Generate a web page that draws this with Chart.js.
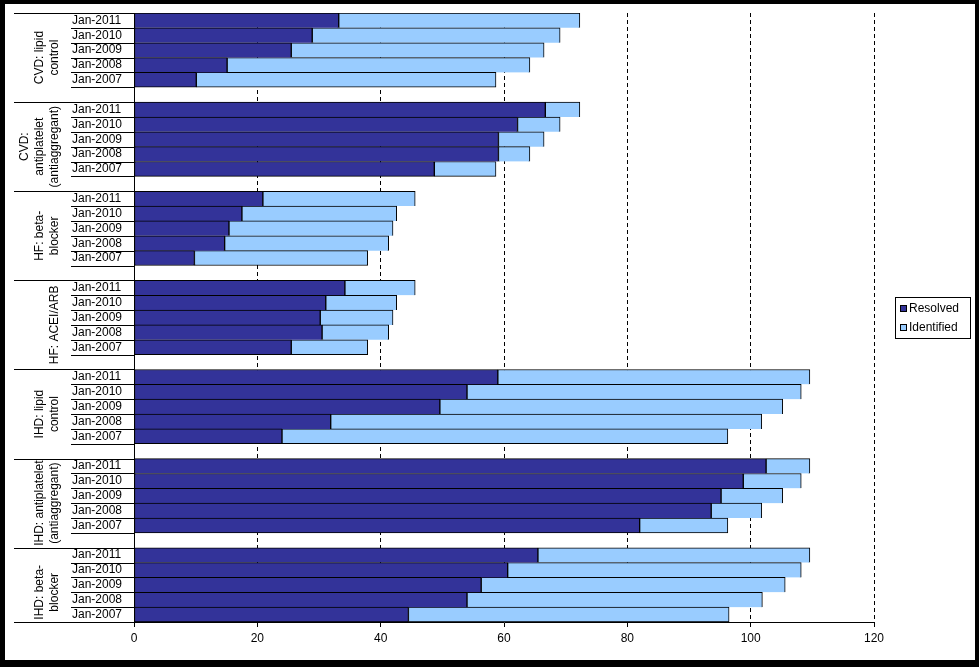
<!DOCTYPE html>
<html>
<head>
<meta charset="utf-8">
<script src="https://cdn.jsdelivr.net/npm/chart.js@4"></script>
<style>
  html, body { margin: 0; padding: 0; background: #000; }
  #wrap { position: absolute; left: 0; top: 0; width: 979px; height: 667px; }
</style>
</head>
<body>
<div id="wrap"><canvas id="chart" width="979" height="667"></canvas></div>
<script>
// Data
const years = ['Jan-2011', 'Jan-2010', 'Jan-2009', 'Jan-2008', 'Jan-2007'];
const groupNames = [
  ['CVD: lipid', 'control'],
  ['CVD:', 'antiplatelet', '(antiaggregant)'],
  ['HF: beta-', 'blocker'],
  ['HF: ACEI/ARB'],
  ['IHD: lipid', 'control'],
  ['IHD: antiplatelet', '(antiaggregant)'],
  ['IHD: beta-', 'blocker']
];
const resolved = [
  [33.2, 28.9, 25.5, 15.1, 10.1],
  [66.7, 62.2, 59.1, 59.1, 48.7],
  [20.9, 17.5, 15.4, 14.7, 9.8],
  [34.2, 31.1, 30.2, 30.5, 25.5],
  [59.0, 54.0, 49.6, 31.9, 24.0],
  [102.5, 98.8, 95.2, 93.6, 82.0],
  [65.5, 60.6, 56.3, 54.0, 44.5]
];
const identified = [
  [72.3, 69.1, 66.5, 64.2, 58.7],
  [72.3, 69.1, 66.5, 64.2, 58.7],
  [45.6, 42.6, 42.0, 41.3, 37.9],
  [45.6, 42.6, 42.0, 41.3, 37.9],
  [109.6, 108.2, 105.2, 101.8, 96.3],
  [109.6, 108.2, 105.2, 101.8, 96.3],
  [109.6, 108.2, 105.6, 101.9, 96.5]
];
const xTicks = [0, 20, 40, 60, 80, 100, 120];

// Flatten into category slots, with one blank slot between groups
const labels = [];
const resolvedData = [];
const identifiedData = [];
groupNames.forEach((g, gi) => {
  years.forEach((y, yi) => {
    labels.push(y);
    resolvedData.push([0, resolved[gi][yi]]);
    identifiedData.push([resolved[gi][yi], identified[gi][yi]]);
  });
  if (gi < groupNames.length - 1) {
    labels.push('');
    resolvedData.push(null);
    identifiedData.push(null);
  }
});

const FONT = '"Liberation Sans", Arial, sans-serif';

// Only the last bar of each group gets a bottom edge, so rows share one line
function barBorder(ctx) {
  const last = labels[ctx.dataIndex] === 'Jan-2007';
  return { top: 1, left: 1, right: 1, bottom: last ? 1 : 0 };
}

// Frame, category labels and legend
const decor = {
  id: 'decor',
  beforeDraw(chart) {
    const c = chart.ctx;
    c.save();
    c.fillStyle = '#000';
    c.fillRect(0, 0, chart.width, chart.height);
    c.fillStyle = '#fff';
    c.fillRect(5, 4, 970, 656);
    c.restore();
  },
  afterDraw(chart) {
    const c = chart.ctx;
    const y = chart.scales.y;
    const area = chart.chartArea;
    const slot = (y.getPixelForValue(1) - y.getPixelForValue(0));
    c.save();
    c.strokeStyle = '#000';
    c.lineWidth = 1;
    c.fillStyle = '#000';
    c.font = '12px ' + FONT;
    c.textBaseline = 'middle';

    let idx = 0;
    groupNames.forEach((g, gi) => {
      const gTop = y.getPixelForValue(idx) - slot / 2;
      const n = gi < groupNames.length - 1 ? 6 : 5;
      const gBot = gTop + n * slot;
      // long separator at group top
      c.beginPath();
      c.moveTo(14, Math.round(gTop) + 0.5);
      c.lineTo(area.left, Math.round(gTop) + 0.5);
      c.stroke();
      // date labels with short rules
      years.forEach((yr, yi) => {
        const py = y.getPixelForValue(idx + yi);
        c.textAlign = 'left';
        c.fillText(yr, 72, py);
        const b = Math.round(py + slot / 2) + 0.5;
        c.beginPath();
        c.moveTo(71, b);
        c.lineTo(area.left, b);
        c.stroke();
      });
      // rotated group name
      const cy = (gTop + gTop + 6 * slot) / 2;
      c.save();
      c.translate(0, cy);
      c.rotate(-Math.PI / 2);
      c.textAlign = 'center';
      const lines = g.length;
      g.forEach((line, li) => {
        const px = 55 - (lines - 1 - li) * 15;
        c.fillText(line, 0, px);
      });
      c.restore();
      if (gi === groupNames.length - 1) {
        c.beginPath();
        c.moveTo(14, Math.round(gBot) + 0.5);
        c.lineTo(area.left, Math.round(gBot) + 0.5);
        c.stroke();
      }
      idx += 6;
    });

    // legend
    c.strokeRect(895.5, 297.5, 75, 41);
    const items = [['Resolved', '#333399', 309], ['Identified', '#99CCFF', 328]];
    items.forEach(([txt, col, py]) => {
      c.fillStyle = col;
      c.fillRect(900, py - 4, 7, 7);
      c.strokeRect(900.5, py - 3.5, 6, 6);
      c.fillStyle = '#000';
      c.textAlign = 'left';
      c.fillText(txt, 909, py);
    });
    c.restore();
  }
};

new Chart(document.getElementById('chart'), {
  type: 'bar',
  data: {
    labels: labels,
    datasets: [
      {
        label: 'Resolved',
        data: resolvedData,
        backgroundColor: '#333399',
        borderColor: '#000',
        borderWidth: barBorder,
        borderSkipped: false,
        barPercentage: 1,
        categoryPercentage: 1
      },
      {
        label: 'Identified',
        data: identifiedData,
        backgroundColor: '#99CCFF',
        borderColor: '#000',
        borderWidth: barBorder,
        borderSkipped: false,
        barPercentage: 1,
        categoryPercentage: 1
      }
    ]
  },
  options: {
    indexAxis: 'y',
    responsive: false,
    animation: false,
    layout: { padding: { top: 13, right: 105, left: 0, bottom: 0 } },
    plugins: {
      legend: { display: false },
      tooltip: { enabled: false }
    },
    scales: {
      x: {
        min: 0,
        max: 120,
        afterBuildTicks: s => { s.ticks = xTicks.map(v => ({ value: v })); },
        afterFit: s => { s.height = 45; },
        grid: {
          color: ctx => ctx.index === 0 ? 'rgba(0,0,0,0)' : '#000',
          tickColor: '#000',
          tickLength: 5,
          lineWidth: 1
        },
        border: { display: true, color: '#000', width: 1, dash: [4, 3] },
        ticks: {
          color: '#000',
          padding: 4,
          font: { family: FONT, size: 12 }
        }
      },
      y: {
        stacked: true,
        offset: true,
        afterFit: s => { s.width = 134; },
        grid: { display: false },
        border: { display: true, color: '#000', width: 1 },
        ticks: { display: false }
      }
    }
  },
  plugins: [decor]
});
</script>
</body>
</html>
